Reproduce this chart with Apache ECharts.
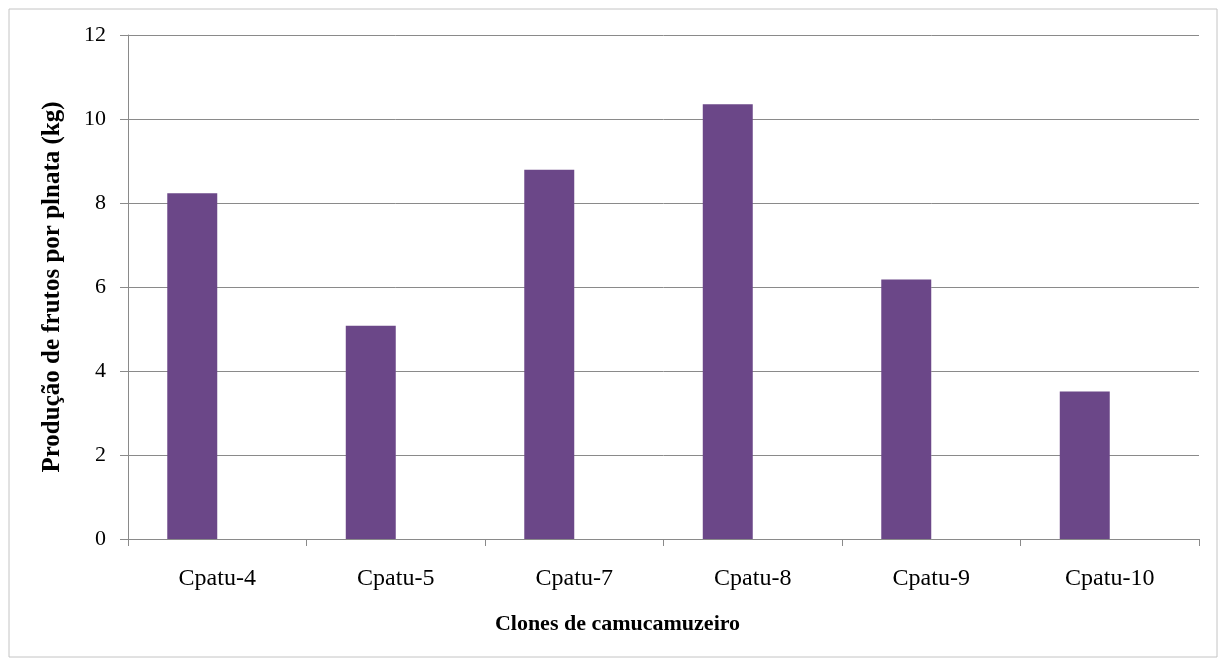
<!DOCTYPE html>
<html lang="pt">
<head>
    <meta charset="utf-8"/>
    <title>Clones de camucamuzeiro</title>
    <script src="https://cdn.jsdelivr.net/npm/echarts@6/dist/echarts.min.js"></script>
    <style>
        html, body { margin: 0; padding: 0; background: #fff; }
        #chart { width: 1222px; height: 660px; }
    </style>
</head>
<body>
<div id="chart"></div>
<script>
    // dados
    var clones = ['Cpatu-4', 'Cpatu-5', 'Cpatu-7', 'Cpatu-8', 'Cpatu-9', 'Cpatu-10'];
    var producao = [8.23, 5.08, 8.79, 10.35, 6.18, 3.51];
    // segunda série vazia (no original as barras ficam à esquerda da categoria)
    var vazia = [null, null, null, null, null, null];
    var yTicks = [0, 2, 4, 6, 8, 10, 12];

    var serif = '"Liberation Serif", "Times New Roman", serif';
    var grey = '#8a8a8a';

    var myChart = echarts.init(document.getElementById('chart'));
    var options = {
        backgroundColor: '#fff',
        animation: false,
        graphic: [{
            type: 'rect',
            shape: { x: 9, y: 9, width: 1208, height: 648 },
            style: { fill: 'none', stroke: '#c4c4c4', lineWidth: 1 },
            silent: true
        }],
        grid: { left: 128, right: 23, top: 35, bottom: 121 },
        xAxis: {
            type: 'category',
            data: clones,
            name: 'Clones de camucamuzeiro',
            nameLocation: 'middle',
            nameGap: 74,
            nameTextStyle: {
                fontFamily: serif, fontSize: 22, fontWeight: 'bold', color: '#000',
                padding: [0, 92, 0, 0]
            },
            axisLine: { lineStyle: { color: grey, width: 1 } },
            axisTick: { show: true, alignWithLabel: false, length: 7, lineStyle: { color: grey } },
            axisLabel: { fontFamily: serif, fontSize: 24, color: '#000', margin: 28 }
        },
        yAxis: {
            type: 'value',
            min: yTicks[0],
            max: yTicks[yTicks.length - 1],
            interval: 2,
            name: 'Produção de frutos por plnata (kg)',
            nameLocation: 'middle',
            nameGap: 63,
            nameTextStyle: { fontFamily: serif, fontSize: 25, fontWeight: 'bold', color: '#000' },
            axisLine: { show: true, lineStyle: { color: grey, width: 1 } },
            axisTick: { show: true, length: 8, lineStyle: { color: grey } },
            splitLine: { show: true, lineStyle: { color: grey, width: 1 } },
            axisLabel: { fontFamily: serif, fontSize: 22, color: '#000', margin: 22 }
        },
        series: [{
            name: 'Produção',
            type: 'bar',
            data: producao,
            barGap: '0%',
            barCategoryGap: '44%',
            itemStyle: { color: '#6b4788' }
        }, {
            name: '',
            type: 'bar',
            data: vazia,
            itemStyle: { color: '#6b4788' }
        }]
    };
    myChart.setOption(options);
</script>
</body>
</html>
